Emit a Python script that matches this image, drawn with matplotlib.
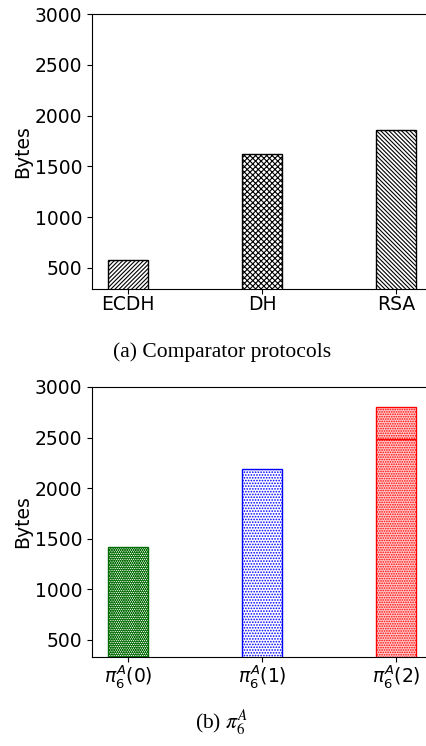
import matplotlib
matplotlib.use("Agg")
import matplotlib.pyplot as plt

plt.rcParams["hatch.linewidth"] = 0.8

# Data
top_labels = ["ECDH", "DH", "RSA"]
top_values = [582, 1620, 1860]
top_hatches = ["////////", "xxxxxx", "\\\\\\\\\\\\\\\\"]

bot_labels = [r"$\pi_6^A(0)$", r"$\pi_6^A(1)$", r"$\pi_6^A(2)$"]
bot_lower = [1420, 2190, 2490]
bot_upper = [0, 0, 310]
bot_colors = [(0.0, 0.42, 0.0), "blue", "red"]
bot_faces = ["white", "white", (1.0, 0.8, 0.8)]
bot_hatches = [".........", "......", "......."]
bot_hatch_lw = [1.4, 0.8, 0.8]

yticks = [500, 1000, 1500, 2000, 2500, 3000]

W, H = 426, 746
fig = plt.figure(figsize=(W / 100, H / 100), dpi=100)

fs = 13.5
x = list(range(3))

# Top axes
ax1 = fig.add_axes([92 / W, (H - 289) / H, (432 - 92) / W, 275 / H])
ax1.bar(x, top_values, width=0.3, color="white", edgecolor="black",
        hatch=top_hatches, linewidth=1.0)
ax1.set_xlim(-0.27, 2.27)
ax1.set_ylim(293, 3000)
ax1.set_yticks(yticks)
ax1.set_xticks(x)
ax1.set_xticklabels(top_labels)
ax1.set_ylabel("Bytes", fontsize=fs, labelpad=2)
ax1.tick_params(labelsize=fs)
ax1.tick_params(axis="x", pad=1)
ax1.spines["right"].set_visible(False)

# Bottom axes
ax2 = fig.add_axes([92 / W, (H - 657) / H, (432 - 92) / W, 270 / H])
for i in range(3):
    with plt.rc_context({"hatch.linewidth": bot_hatch_lw[i]}):
        ax2.bar(x[i], bot_lower[i], width=0.3, color=bot_faces[i],
                edgecolor=bot_colors[i], hatch=bot_hatches[i],
                linewidth=1.0)
        if bot_upper[i] > 0:
            ax2.bar(x[i], bot_upper[i], bottom=bot_lower[i], width=0.3,
                    color=bot_faces[i], edgecolor=bot_colors[i],
                    hatch=bot_hatches[i], linewidth=1.0)
ax2.set_xlim(-0.27, 2.27)
ax2.set_ylim(332, 3000)
ax2.set_yticks(yticks)
ax2.set_xticks(x)
ax2.set_xticklabels(bot_labels)
ax2.set_ylabel("Bytes", fontsize=fs, labelpad=2)
ax2.tick_params(labelsize=fs)
ax2.tick_params(axis="x", pad=1)
ax2.spines["right"].set_visible(False)

# Captions
fig.text(222 / W, 1 - 352 / H, "(a) Comparator protocols", ha="center",
         va="center", fontsize=15.5, family="Liberation Serif")
fig.text(222 / W, 1 - 722 / H, r"(b) $\pi_6^A$", ha="center", va="center",
         fontsize=15.5, family="Liberation Serif", math_fontfamily="stix")

fig.savefig("out.png", dpi=100)
